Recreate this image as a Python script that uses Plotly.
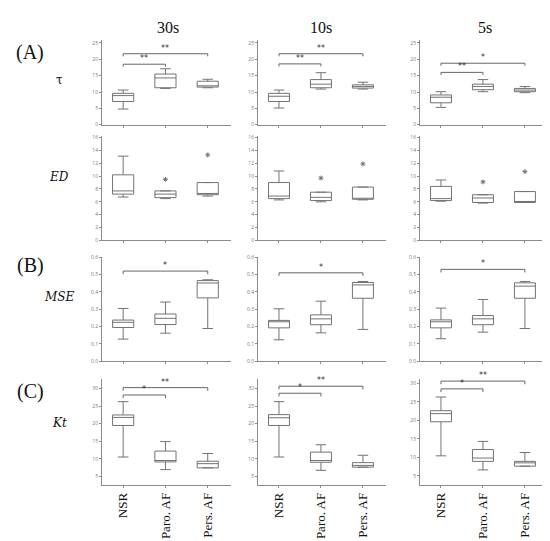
import plotly.graph_objects as go
from plotly.subplots import make_subplots

groups = ["NSR", "Paro. AF", "Pers. AF"]
windows = ["30s", "10s", "5s"]
row_names = ["τ", "ED", "MSE", "Kt"]

# box statistics, [window][group]
tau_lo = [[4.8, 11.1, 11.3], [5.1, 10.9, 10.9], [5.3, 10.1, 9.8]]
tau_q1 = [[7.1, 11.3, 11.5], [7.1, 11.3, 11.2], [6.7, 10.7, 10.1]]
tau_med = [[8.9, 14.3, 11.9], [8.7, 12.4, 11.7], [8.4, 11.7, 10.6]]
tau_q3 = [[9.6, 15.5, 13.3], [9.6, 13.8, 12.2], [9.1, 12.4, 11.1]]
tau_hi = [[10.6, 17.1, 13.9], [10.6, 15.9, 13.0], [10.1, 13.8, 11.7]]

ed_lo = [[6.75, 6.5, 6.9], [6.3, 6.0, 6.3], [6.1, 5.8, 5.9]]
ed_q1 = [[7.2, 6.65, 7.1], [6.5, 6.2, 6.4], [6.2, 5.9, 5.9]]
ed_med = [[7.7, 7.2, 7.3], [6.9, 6.7, 6.5], [6.5, 6.6, 6.0]]
ed_q3 = [[10.2, 7.7, 9.0], [9.0, 7.5, 8.3], [8.4, 7.1, 7.6]]
ed_hi = [[13.1, 7.7, 9.0], [10.8, 7.5, 8.3], [9.4, 7.1, 7.6]]
ed_out = [[None, 9.5, 13.3], [None, 9.7, 11.9], [None, 9.1, 10.7]]

mse_lo = [[0.127, 0.161, 0.188], [0.123, 0.163, 0.183], [0.129, 0.167, 0.188]]
mse_q1 = [[0.194, 0.211, 0.365], [0.192, 0.210, 0.363], [0.192, 0.210, 0.363]]
mse_med = [[0.224, 0.247, 0.451], [0.227, 0.244, 0.440], [0.227, 0.244, 0.433]]
mse_q3 = [[0.237, 0.272, 0.465], [0.235, 0.267, 0.454], [0.238, 0.263, 0.452]]
mse_hi = [[0.304, 0.341, 0.470], [0.302, 0.346, 0.460], [0.306, 0.356, 0.460]]

kt_lo = [[10.5, 6.9, 7.4], [10.5, 6.7, 7.6], [10.4, 6.6, 7.6]]
kt_q1 = [[19.5, 9.1, 7.4], [19.5, 9.0, 7.6], [19.6, 8.9, 7.6]]
kt_med = [[21.8, 9.5, 8.6], [21.7, 9.5, 8.1], [21.8, 9.8, 8.5]]
kt_q3 = [[22.5, 12.2, 9.3], [22.6, 11.9, 8.9], [22.6, 12.1, 8.9]]
kt_hi = [[26.3, 14.9, 11.5], [26.3, 14.0, 11.0], [26.3, 14.3, 11.3]]

# significance brackets from NSR: (target group, height, label)
sig_tau = [[(1, 18.5, "**"), (2, 21.7, "**")],
           [(1, 18.6, "**"), (2, 21.7, "**")],
           [(1, 16.0, "**"), (2, 18.8, "*")]]
sig_ed = [[], [], []]
sig_mse = [[(2, 0.52, "*")], [(2, 0.51, "*")], [(2, 0.53, "*")]]
sig_kt = [[(1, 28.2, "*"), (2, 30.3, "**")],
          [(1, 28.7, "*"), (2, 30.7, "**")],
          [(1, 28.5, "*"), (2, 30.6, "**")]]

stats = [
    (tau_lo, tau_q1, tau_med, tau_q3, tau_hi, None, sig_tau),
    (ed_lo, ed_q1, ed_med, ed_q3, ed_hi, ed_out, sig_ed),
    (mse_lo, mse_q1, mse_med, mse_q3, mse_hi, None, sig_mse),
    (kt_lo, kt_q1, kt_med, kt_q3, kt_hi, None, sig_kt),
]

W, H = 550, 541
col_px = [(94, 223), (250, 378), (412, 540)]
row_px = [(29, 115), (126, 232), (249, 354), (372, 479)]
y_ranges = [
    [[0, 26], [0, 26], [0, 26]],
    [[0, 16.3], [0, 16.3], [0, 16.3]],
    [[0, 0.6], [0, 0.6], [0, 0.6]],
    [[2.6, 32.8], [2.6, 32.8], [2.6, 31.2]],
]
y_dticks = [5, 2, 0.1, 5]
y_fmt = ["d", "d", ".1f", "d"]

box_col = "#737373"
axis_col = "#8c8c8c"
serif = "Liberation Serif"

fig = make_subplots(rows=4, cols=3)

for r in range(4):
    lo, q1, med, q3, hi, out, sig = stats[r]
    for c in range(3):
        for g in range(3):
            fig.add_trace(go.Box(
                x=[g], lowerfence=[lo[c][g]], q1=[q1[c][g]], median=[med[c][g]],
                q3=[q3[c][g]], upperfence=[hi[c][g]],
                width=0.5, whiskerwidth=0.5, boxpoints=False,
                fillcolor="rgba(0,0,0,0)", line=dict(color=box_col, width=1),
                showlegend=False), row=r + 1, col=c + 1)
        if out is not None:
            ox = [g for g in range(3) if out[c][g] is not None]
            oy = [out[c][g] for g in ox]
            fig.add_trace(go.Scatter(
                x=ox, y=oy, mode="markers",
                marker=dict(symbol="asterisk-open", size=4, color=box_col,
                            line=dict(color=box_col, width=1)),
                showlegend=False), row=r + 1, col=c + 1)
        span = y_ranges[r][c][1] - y_ranges[r][c][0]
        drop = span * 0.03
        n = r * 3 + c + 1
        sfx = str(n) if n > 1 else ""
        for tg, yv, txt in sig[c]:
            fig.add_trace(go.Scatter(
                x=[0, 0, tg, tg], y=[yv - drop, yv, yv, yv - drop], mode="lines",
                line=dict(color="#666666", width=1), showlegend=False, cliponaxis=False),
                row=r + 1, col=c + 1)
            fig.add_annotation(x=tg / 2, y=yv, text=txt, showarrow=False,
                               xref="x" + sfx, yref="y" + sfx,
                               xanchor="center", yanchor="bottom", yshift=-1,
                               font=dict(size=8, color="#333333", family="DejaVu Sans"))

for r in range(4):
    for c in range(3):
        n = r * 3 + c + 1
        sfx = str(n) if n > 1 else ""
        x0, x1 = col_px[c]
        y0, y1 = row_px[r]
        bottom = r == 3
        fig.layout["xaxis" + sfx].update(
            domain=[x0 / W, x1 / W], range=[-0.5, 2.55], tickvals=[0, 1, 2],
            ticktext=groups if bottom else ["", "", ""],
            tickangle=-90, ticks="outside", ticklen=2, tickcolor=axis_col,
            showline=True, linecolor=axis_col, linewidth=1, showgrid=False, zeroline=False,
            tickfont=dict(family=serif, size=13, color="#111111"))
        fig.layout["yaxis" + sfx].update(
            domain=[1 - y1 / H, 1 - y0 / H], range=y_ranges[r][c], dtick=y_dticks[r],
            tickformat=y_fmt[r], ticks="outside", ticklen=2, tickcolor=axis_col,
            showline=True, linecolor=axis_col, linewidth=1, showgrid=False, zeroline=False,
            tickfont=dict(size=5, color="#777777"))

col_centers = [160, 313, 477]
for c in range(3):
    fig.add_annotation(x=col_centers[c] / W, y=1 - 17 / H, xref="paper", yref="paper",
                       xanchor="center", yanchor="middle",
                       text=windows[c], showarrow=False,
                       font=dict(family=serif, size=16, color="#111111"))

panel_y = [42, 257, 385]
for lab, py in zip(["(A)", "(B)", "(C)"], panel_y):
    fig.add_annotation(x=22 / W, y=1 - py / H, xref="paper", yref="paper", text=lab,
                       xanchor="center", yanchor="middle",
                       showarrow=False, font=dict(family=serif, size=20, color="#111111"))

label_y = [70, 168, 289, 417]
for r in range(4):
    txt = row_names[r] if r == 0 else "<i>" + row_names[r] + "</i>"
    fig.add_annotation(x=51 / W, y=1 - label_y[r] / H, xref="paper", yref="paper", text=txt,
                       xanchor="center", yanchor="middle",
                       showarrow=False, font=dict(family="DejaVu Serif", size=12, color="#111111"))

fig.update_layout(width=W, height=H, margin=dict(l=0, r=0, t=0, b=0),
                  plot_bgcolor="white", paper_bgcolor="white", showlegend=False)

fig.write_html("out.html")
